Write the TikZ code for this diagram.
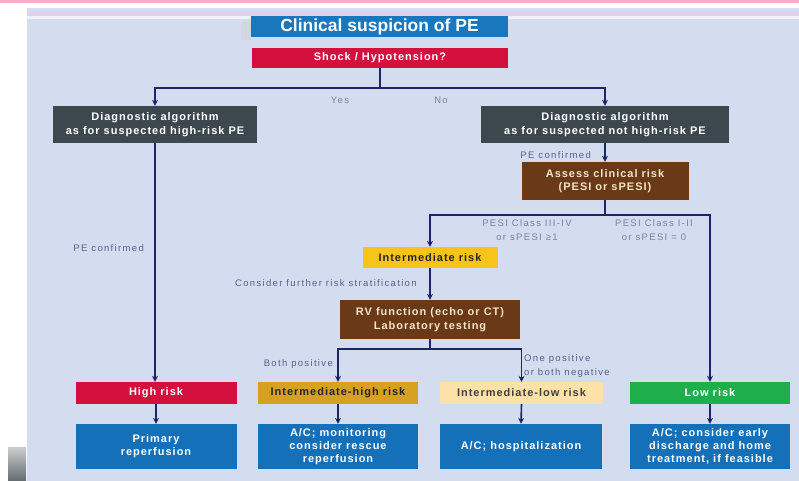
\documentclass[tikz,border=0pt]{standalone}
\usepackage{fontspec}
\setmainfont{Liberation Sans}
\newfontfamily\spaced[LetterSpace=14]{Liberation Sans}
\newfontfamily\boxface[LetterSpace=9]{Liberation Sans}
\usetikzlibrary{arrows.meta,positioning}

\definecolor{panel}{HTML}{D4DDEF}
\definecolor{topline}{HTML}{F4AECB}
\definecolor{lavband}{HTML}{DCD4EC}
\definecolor{navy}{HTML}{1C2566}
\definecolor{titleblue}{HTML}{1877BD}
\definecolor{alarmred}{HTML}{D4103F}
\definecolor{slate}{HTML}{3C474E}
\definecolor{brownbox}{HTML}{6A3917}
\definecolor{cream}{HTML}{F6E4C6}
\definecolor{yellowbox}{HTML}{F8C419}
\definecolor{goldbox}{HTML}{D6A020}
\definecolor{palegold}{HTML}{FCE2A8}
\definecolor{greenbox}{HTML}{1EAF4C}
\definecolor{treatblue}{HTML}{1570BA}
\definecolor{labelgrey}{HTML}{56618A}
\definecolor{softgrey}{HTML}{7D8498}

\tikzset{
  x=1pt, y=-1pt,
  box/.style={rectangle, inner sep=0pt, align=center, font=\boxface\fontsize{11}{13.5}\selectfont\bfseries, text=white},
  titlebox/.style={box, fill=titleblue, minimum width=257, minimum height=21, font=\fontsize{17.5}{20}\selectfont\bfseries},
  redbox/.style={box, fill=alarmred, minimum height=22},
  darkbox/.style={box, fill=slate, minimum height=37},
  brown/.style={box, fill=brownbox, text=cream, minimum height=38},
  riskbox/.style={box, minimum width=161, minimum height=22},
  treatbox/.style={box, fill=treatblue, minimum width=161, minimum height=45, font=\boxface\fontsize{11}{13}\selectfont\bfseries},
  conn/.style={draw=navy, line width=1.6pt},
  arr/.style={conn, -{Stealth[length=6pt,width=6pt]}},
  lbl/.style={font=\spaced\fontsize{9.5}{13.5}\selectfont, text=labelgrey, inner sep=1pt},
}

\begin{document}
\begin{tikzpicture}
\useasboundingbox (0,0) rectangle (799,481);

% page background, top rule and slide panel
\fill[white] (0,0) rectangle (799,481);
\fill[topline] (0,0) rectangle (799,3);
\fill[panel] (27,8) rectangle (799,481);
\fill[lavband] (27,11) rectangle (799,16);
\fill[white!60!panel] (27,16) rectangle (799,19);
\shade[top color=gray!40, bottom color=slate!80] (8,447) rectangle (26,481);

% title and first question
\fill[gray!35, opacity=0.6] (241,22) rectangle (251,40);
\node[titlebox] (title) at (379.5,26.5) {Clinical suspicion of PE};
\node[redbox, minimum width=256, minimum height=20] (shock) at (380,58) {Shock / Hypotension?};

% diagnostic algorithms
\node[darkbox, minimum width=204] (diaghigh) at (155,124.5) {Diagnostic algorithm\\as for suspected high-risk PE};
\node[darkbox, minimum width=248] (diaglow) at (605,124.5) {Diagnostic algorithm\\as for suspected not high-risk PE};

% clinical risk assessment
\node[brown, minimum width=167] (assess) at (605,181) {Assess clinical risk\\(PESI or sPESI)};
\node[box, fill=yellowbox, text=black!85, minimum width=135, minimum height=21] (intrisk) at (430,257.5) {Intermediate risk};
\node[brown, minimum width=180, minimum height=39] (rvtest) at (430,319.5) {RV function (echo or CT)\\Laboratory testing};

% risk classes
\node[riskbox, fill=alarmred] (high) at (156,393) {High risk};
\node[riskbox, fill=goldbox, text=black!85, minimum width=160] (inthigh) at (338,393) {Intermediate-high risk};
\node[riskbox, fill=palegold, text=black!75, minimum width=163] (intlow) at (521.5,393) {Intermediate-low risk};
\node[riskbox, fill=greenbox, minimum width=160] (low) at (710,393) {Low risk};

% management
\node[treatbox] (tr1) at (156,446.5) {Primary\\reperfusion};
\node[treatbox, minimum width=160] (tr2) at (338,446.5) {A/C; monitoring\\consider rescue\\reperfusion};
\node[treatbox, minimum width=162] (tr3) at (521,446.5) {A/C; hospitalization};
\node[treatbox, minimum width=160] (tr4) at (710,446.5) {A/C; consider early\\discharge and home\\treatment, if feasible};

% branch points
\coordinate (split1) at (380,88);
\coordinate (split2) at (605,215);
\coordinate (split3) at (430,349);

% connectors
\draw[conn] (shock.south) -- (split1);
\draw[arr] (split1) -| (diaghigh.north);
\draw[arr] (split1) -| (diaglow.north);
\draw[arr] (diaghigh.south) -- (high.north -| diaghigh.south);
\draw[arr] (diaglow.south) -- (assess.north);
\draw[conn] (assess.south) -- (split2);
\draw[arr] (split2) -| (intrisk.north);
\draw[arr] (split2) -| (low.north);
\draw[arr] (intrisk.south) -- (rvtest.north);
\draw[conn] (rvtest.south) -- (split3);
\draw[arr] (split3) -| (inthigh.north);
\draw[arr] (split3) -| (intlow.north);
\draw[arr] (high.south) -- (tr1.north);
\draw[arr] (inthigh.south) -- (tr2.north);
\draw[arr] (intlow.south) -- (tr3.north);
\draw[arr] (low.south) -- (tr4.north);

% connector labels
\node[lbl, text=softgrey] (yes) at (340,100) {Yes};
\node[lbl, text=softgrey] (no) at (441,100) {No};
\node[lbl, anchor=east] (pe1) at (145,248) {PE confirmed};
\node[lbl, anchor=east] (pe2) at (592,155) {PE confirmed};
\node[lbl, align=center, text=labelgrey!80] (pesihigh) at (527,230) {PESI Class III-IV\\or sPESI ≥1};
\node[lbl, align=center, text=labelgrey!80] (pesilow) at (654,230) {PESI Class I-II\\or sPESI = 0};
\node[lbl, anchor=west] (further) at (234,283) {Consider further risk stratification};
\node[lbl, anchor=east] (bothpos) at (334,364) {Both positive};
\node[lbl, anchor=west, align=left] (onepos) at (523,366) {One positive\\or both negative};
\end{tikzpicture}
\end{document}
